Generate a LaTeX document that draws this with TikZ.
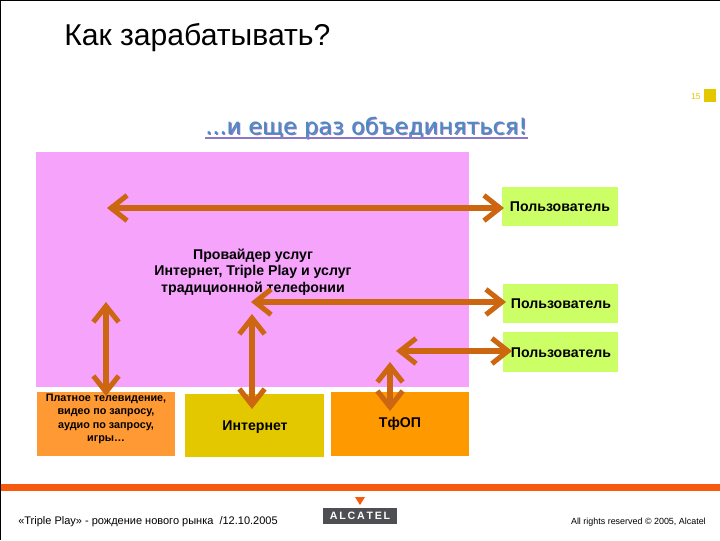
\documentclass[tikz,border=0pt]{standalone}
\usepackage{fontspec}
\setmainfont{Liberation Sans}
\newfontfamily\headfont{DejaVu Sans}
\usetikzlibrary{arrows.meta}
\definecolor{pinkbg}{HTML}{F5A3FB}
\definecolor{limebox}{HTML}{CCFF66}
\definecolor{tvbox}{HTML}{FF9933}
\definecolor{netbox}{HTML}{E3C800}
\definecolor{pstnbox}{HTML}{FF9900}
\definecolor{arrowc}{HTML}{CC6611}
\definecolor{rulec}{HTML}{F55A0E}
\definecolor{logoc}{HTML}{4D4F53}
\definecolor{headc}{HTML}{4A8CC0}
\definecolor{heads}{HTML}{8A78C8}
\tikzset{
 x=0.75pt,y=-0.75pt,
 lbl/.style={font=\fontsize{10.6}{12.6}\selectfont\bfseries,align=center,inner sep=0pt},
 dbl/.style={draw=arrowc,line width=3.9pt,{Straight Barb[length=12pt,width=19pt,line width=3.8pt]}-{Straight Barb[length=12pt,width=19pt,line width=3.8pt]}},
}
\begin{document}
\begin{tikzpicture}
\useasboundingbox (0,0) rectangle (720,540);
\fill[black] (0,0) rectangle (720,1);
\fill[black] (0,0) rectangle (1,540);
\node[anchor=base west,inner sep=0pt,font=\fontsize{22.6}{26}\selectfont] (title) at (64,45) {Как зарабатывать?};
\node[anchor=base east,inner sep=0pt,text=netbox,font=\fontsize{6.5}{8}\selectfont] (pageno) at (701,99) {15};
\fill[netbox] (704,89) rectangle (716,102);
% heading
\node[anchor=base west,inner sep=0pt,text=heads,font=\headfont\fontsize{16.8}{20}\selectfont] (heads) at (206.2,135.7) {...и еще раз объединяться!};
\node[anchor=base west,inner sep=0pt,text=headc,font=\headfont\fontsize{16.8}{20}\selectfont] (head) at (205,134.5) {...и еще раз объединяться!};
\fill[heads] (205,137) rectangle (528,139);
% boxes
\fill[pinkbg] (36,152) rectangle (469,387);
\path[fill=limebox] (502,187) rectangle (618,226);
\path[fill=limebox] (503,284) rectangle (618,323);
\path[fill=limebox] (503,332) rectangle (618,372);
\path[fill=tvbox] (37,392) rectangle (175,456);
\path[fill=netbox] (185,394) rectangle (324,457);
\path[fill=pstnbox] (331,392) rectangle (469,456);
\node[lbl] (u1) at (560,207) {Пользователь};
\node[lbl] (u2) at (561,304) {Пользователь};
\node[lbl] (u3) at (561,353) {Пользователь};
\node[lbl] (prov) at (253,272) {Провайдер услуг\\Интернет, Triple Play и услуг\\традиционной телефонии};
\node[lbl,font=\fontsize{8.1}{10}\selectfont\bfseries] (tv) at (106,419) {Платное телевидение,\\видео по запросу,\\аудио по запросу,\\игры…};
\node[lbl] (inet) at (255,427) {Интернет};
\node[lbl,font=\fontsize{10.6}{13}\selectfont\bfseries] (pstn) at (400,424) {ТфОП};
% arrow ends
\coordinate (a1l) at (107,208); \coordinate (a1r) at (504,208);
\coordinate (a2l) at (251,302); \coordinate (a2r) at (506,302);
\coordinate (a3l) at (396,351); \coordinate (a3r) at (512,351);
\coordinate (v1t) at (106,302); \coordinate (v1b) at (106,396);
\coordinate (v2t) at (252,314); \coordinate (v2b) at (252,409);
\coordinate (v3t) at (390,362); \coordinate (v3b) at (390,411);
\draw[dbl] (a1l) -- (a1r);
\draw[dbl] (a2l) -- (a2r);
\draw[dbl] (a3l) -- (a3r);
\draw[dbl] (v1t) -- (v1b);
\draw[dbl] (v2t) -- (v2b);
\draw[dbl] (v3t) -- (v3b);
% footer
\fill[rulec] (1,484) rectangle (720,491);
\node[anchor=base west,inner sep=0pt,font=\fontsize{8.25}{10}\selectfont] (foot) at (18,524) {«Triple Play» - рождение нового рынка \ /12.10.2005};
\node[anchor=base east,inner sep=0pt,font=\fontsize{6.7}{8}\selectfont] (copy) at (706,524) {All rights reserved © 2005, Alcatel};
\fill[rulec] (355,497) -- (365,497) -- (360,505) -- cycle;
\fill[logoc] (323,508) rectangle (397,524);
\node[inner sep=0pt,text=white,font=\fontsize{8}{10}\selectfont\bfseries] (logo) at (360,516) {A\,L\,C\,A\,T\,E\,L};
\end{tikzpicture}
\end{document}
